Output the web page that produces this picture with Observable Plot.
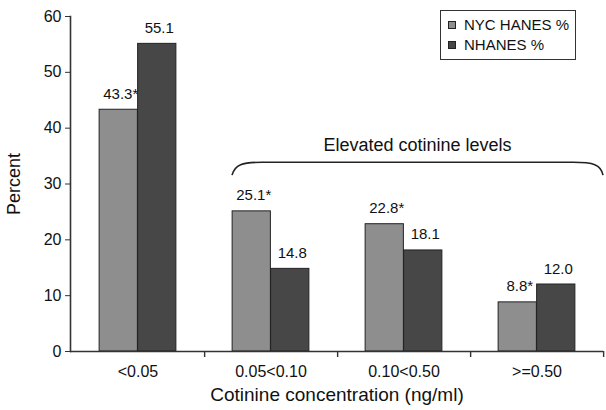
<!DOCTYPE html>
<html>
<head>
<meta charset="utf-8">
<script src="https://cdn.jsdelivr.net/npm/d3@7"></script>
<script src="https://cdn.jsdelivr.net/npm/@observablehq/plot@0.6"></script>
<style>
  html, body { margin: 0; padding: 0; background: #fff; }
  #chart { position: relative; width: 606px; height: 410px; font-family: "Liberation Sans", Arial, sans-serif; }
  .legend { position: absolute; left: 440px; top: 10px; width: 134px; height: 48px; border: 1px solid #333; background: #fff; font-size: 15px; color: #111; box-sizing: content-box; }
  .legend .row { position: absolute; left: 7px; display: flex; align-items: center; white-space: nowrap; }
  .legend .sw { width: 6px; height: 6px; border: 1px solid #222; margin-right: 8px; }
</style>
</head>
<body>
<div id="chart"></div>
<script>
const categories = ["<0.05", "0.05<0.10", "0.10<0.50", ">=0.50"];
const series = ["NYC HANES %", "NHANES %"];
const nycValues = [43.3, 25.1, 22.8, 8.8];
const nhanesValues = [55.1, 14.8, 18.1, 12.0];
const nycLabels = ["43.3*", "25.1*", "22.8*", "8.8*"];
const nhanesLabels = ["55.1", "14.8", "18.1", "12.0"];
const yTicks = [0, 10, 20, 30, 40, 50, 60];
const braceFrom = "0.05<0.10";
const braceTo = ">=0.50";
const braceText = "Elevated cotinine levels";
const braceTop = 33.8;
const braceEnd = 31.5;

const W = 606, H = 410;
const mL = 70, mR = 3, mT = 16, mB = 59;
const step = (W - mL - mR) / categories.length;
const BAR_W = 38.5;
const GRAY = "#8e8e8e", DARK = "#474747", INK = "#222";
const FONT = "Liberation Sans, Arial, sans-serif";

const nycRows = categories.map((c, i) => ({category: c, value: nycValues[i], label: nycLabels[i]}));
const nhanesRows = categories.map((c, i) => ({category: c, value: nhanesValues[i], label: nhanesLabels[i]}));

const plot = Plot.plot({
  width: W, height: H,
  marginLeft: mL, marginRight: mR, marginTop: mT, marginBottom: mB,
  style: {fontFamily: FONT, fontSize: "15px", color: "#111", background: "#fff"},
  x: {domain: categories, padding: 0, label: null},
  y: {domain: [0, 60], label: null},
  marks: [
    Plot.barY(nycRows, {x: "category", y: "value", fill: GRAY, stroke: INK, strokeWidth: 1,
      insetLeft: step / 2 - BAR_W, insetRight: step / 2}),
    Plot.barY(nhanesRows, {x: "category", y: "value", fill: DARK, stroke: INK, strokeWidth: 1,
      insetLeft: step / 2, insetRight: step / 2 - BAR_W}),
    Plot.text(nycRows, {x: "category", y: "value", text: "label", dx: -BAR_W / 2 + 2, dy: -11, lineAnchor: "bottom", fontSize: 15, fill: "#111"}),
    Plot.text(nhanesRows, {x: "category", y: "value", text: "label", dx: BAR_W / 2 + 2, dy: -11, lineAnchor: "bottom", fontSize: 15, fill: "#111"}),
    Plot.axisY({ticks: yTicks, tickSize: 5, tickPadding: 4, tickFormat: d3.format("d"), fontSize: 16,
      label: null, stroke: "#333"}),
    Plot.text(["Percent"], {frameAnchor: "left", dx: -56, rotate: -90, fontSize: 18, fill: "#111", textAnchor: "middle"}),
    Plot.axisX({tickSize: 0, tickPadding: 14, fontSize: 16, label: null}),
    Plot.text(["Cotinine concentration (ng/ml)"], {frameAnchor: "bottom", dy: 49, fontSize: 19, fill: "#111"}),
    Plot.frame({anchor: "left", stroke: "#333", strokeWidth: 1.6}),
    Plot.ruleY([0], {stroke: "#333", strokeWidth: 1.6}),
    Plot.ruleX(categories, {x: d => d, y1: 0, y2: 0, dx: step / 2, insetBottom: -6, stroke: "#333", strokeWidth: 1.4})
  ]
});

// Brace annotation drawn through the plot's own scales
const xs = plot.scale("x"), ys = plot.scale("y");
const bw = xs.bandwidth;
const x0 = xs.apply(braceFrom) + bw / 2 - BAR_W;
const x1 = xs.apply(braceTo) + bw;
const yt = ys.apply(braceTop), ye = ys.apply(braceEnd);
const svg = d3.select(plot);
svg.append("path")
  .attr("d", `M${x0},${ye} C${x0 + 3},${yt + 2} ${x0 + 10},${yt} ${x0 + 30},${yt} L${x1 - 30},${yt} C${x1 - 10},${yt} ${x1 - 2},${yt + 2} ${x1},${ye}`)
  .attr("fill", "none").attr("stroke", INK).attr("stroke-width", 1.6);
svg.append("text")
  .attr("x", (x0 + x1) / 2).attr("y", yt - 11)
  .attr("text-anchor", "middle")
  .attr("font-size", 18).attr("font-family", FONT).attr("fill", "#111")
  .text(braceText);

const chart = document.getElementById("chart");
chart.appendChild(plot);

const legend = document.createElement("div");
legend.className = "legend";
const fills = [GRAY, DARK];
series.forEach((s, i) => {
  const row = document.createElement("div");
  row.className = "row";
  row.style.top = (5 + i * 20) + "px";
  const sw = document.createElement("span");
  sw.className = "sw";
  sw.style.background = fills[i];
  const t = document.createElement("span");
  t.textContent = s;
  row.appendChild(sw); row.appendChild(t);
  legend.appendChild(row);
});
chart.appendChild(legend);
</script>
</body>
</html>
